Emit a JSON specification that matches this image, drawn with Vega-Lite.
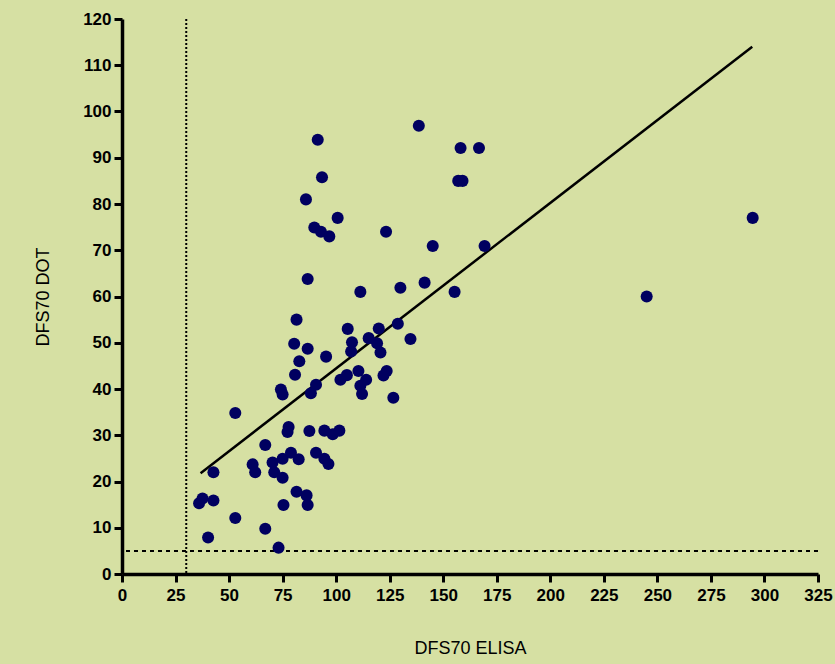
{
  "$schema": "https://vega.github.io/schema/vega-lite/v6.json",
  "width": 696,
  "height": 555,
  "autosize": {"type": "none"},
  "padding": {"left": 122, "top": 19, "right": 17, "bottom": 90},
  "background": "#D6E0A3",
  "config": {
    "view": {"stroke": null, "fill": "#D6E0A3"},
    "axis": {
      "grid": false,
      "domainColor": "#000000",
      "domainWidth": 3.5,
      "tickColor": "#000000",
      "tickWidth": 3,
      "tickSize": 8,
      "labelFont": "Liberation Sans",
      "labelFontWeight": "bold",
      "labelFontSize": 17,
      "labelColor": "#000000",
      "titleFont": "Liberation Sans",
      "titleFontWeight": "normal",
      "titleFontSize": 18,
      "titleColor": "#000000"
    }
  },
  "datasets": {
    "pts": [
      {"elisa": 36, "dot": 15.3}, {"elisa": 37.6, "dot": 16.3}, {"elisa": 42.7, "dot": 15.9}, {"elisa": 42.7, "dot": 22},
      {"elisa": 40.2, "dot": 7.9}, {"elisa": 52.9, "dot": 34.8}, {"elisa": 52.9, "dot": 12.1}, {"elisa": 66.9, "dot": 9.8},
      {"elisa": 73.1, "dot": 5.7}, {"elisa": 61, "dot": 23.7}, {"elisa": 62.2, "dot": 22}, {"elisa": 66.9, "dot": 27.9},
      {"elisa": 70.3, "dot": 24.1}, {"elisa": 71.1, "dot": 22}, {"elisa": 75, "dot": 20.8}, {"elisa": 75, "dot": 24.9},
      {"elisa": 78.9, "dot": 26.2}, {"elisa": 82.5, "dot": 24.8}, {"elisa": 90.6, "dot": 26.2}, {"elisa": 94.5, "dot": 24.9},
      {"elisa": 96.4, "dot": 23.8}, {"elisa": 81.5, "dot": 17.8}, {"elisa": 86.2, "dot": 17}, {"elisa": 86.7, "dot": 14.9},
      {"elisa": 75.4, "dot": 14.9}, {"elisa": 77.8, "dot": 31.8}, {"elisa": 77.3, "dot": 30.7}, {"elisa": 87.5, "dot": 30.9},
      {"elisa": 94.5, "dot": 31}, {"elisa": 98.4, "dot": 30.2}, {"elisa": 101.5, "dot": 31}, {"elisa": 74.2, "dot": 39.9},
      {"elisa": 75, "dot": 38.8}, {"elisa": 90.6, "dot": 40.9}, {"elisa": 88.2, "dot": 39.1}, {"elisa": 80.8, "dot": 43.1},
      {"elisa": 82.8, "dot": 46}, {"elisa": 95.3, "dot": 47}, {"elisa": 80.4, "dot": 49.8}, {"elisa": 86.7, "dot": 48.7},
      {"elisa": 81.5, "dot": 55}, {"elisa": 102, "dot": 42}, {"elisa": 105, "dot": 43}, {"elisa": 110.4, "dot": 43.9},
      {"elisa": 114, "dot": 42}, {"elisa": 111.3, "dot": 40.7}, {"elisa": 112.1, "dot": 38.9}, {"elisa": 123.6, "dot": 43.9},
      {"elisa": 122.1, "dot": 42.9}, {"elisa": 126.7, "dot": 38.1}, {"elisa": 105.4, "dot": 53}, {"elisa": 107.4, "dot": 50.1},
      {"elisa": 107, "dot": 48.1}, {"elisa": 115.2, "dot": 51}, {"elisa": 119.1, "dot": 49.9}, {"elisa": 120.7, "dot": 47.9},
      {"elisa": 119.9, "dot": 53.1}, {"elisa": 128.8, "dot": 54.1}, {"elisa": 134.7, "dot": 50.8},
      {"elisa": 91.4, "dot": 93.9}, {"elisa": 138.6, "dot": 96.9}, {"elisa": 158.1, "dot": 92.1}, {"elisa": 166.7, "dot": 92.1},
      {"elisa": 93.4, "dot": 85.8}, {"elisa": 157, "dot": 85}, {"elisa": 159, "dot": 85}, {"elisa": 85.9, "dot": 81},
      {"elisa": 100.7, "dot": 77}, {"elisa": 89.8, "dot": 74.9}, {"elisa": 92.9, "dot": 74}, {"elisa": 96.8, "dot": 73},
      {"elisa": 123.3, "dot": 74}, {"elisa": 145.1, "dot": 70.9}, {"elisa": 169.3, "dot": 70.9}, {"elisa": 86.7, "dot": 63.8},
      {"elisa": 111.3, "dot": 61}, {"elisa": 130, "dot": 61.9}, {"elisa": 141.3, "dot": 63}, {"elisa": 155.3, "dot": 61},
      {"elisa": 245, "dot": 60}, {"elisa": 294.5, "dot": 77}
    ],
    "fit": [{"elisa": 36.7, "dot": 21.8}, {"elisa": 294.3, "dot": 114.0}],
    "vcut": [{"elisa": 30}],
    "hcut": [{"dot": 5}]
  },
  "layer": [
    {
      "data": {"name": "vcut"},
      "mark": {"type": "rule", "color": "#000000", "strokeWidth": 2, "strokeDash": [2, 2]},
      "encoding": {
        "x": {"field": "elisa", "type": "quantitative", "scale": {"domain": [0, 325], "nice": false, "zero": false}}
      }
    },
    {
      "data": {"name": "hcut"},
      "mark": {"type": "rule", "color": "#000000", "strokeWidth": 2, "strokeDash": [4, 4]},
      "encoding": {
        "y": {"field": "dot", "type": "quantitative", "scale": {"domain": [0, 120], "nice": false, "zero": false}}
      }
    },
    {
      "data": {"name": "fit"},
      "mark": {"type": "line", "color": "#000000", "strokeWidth": 2.5},
      "encoding": {
        "x": {"field": "elisa", "type": "quantitative"},
        "y": {"field": "dot", "type": "quantitative"}
      }
    },
    {
      "data": {"name": "pts"},
      "mark": {"type": "circle", "color": "#000060", "opacity": 1, "size": 145},
      "encoding": {
        "x": {
          "field": "elisa", "type": "quantitative",
          "scale": {"domain": [0, 325], "nice": false, "zero": false},
          "axis": {"title": "DFS70 ELISA", "values": [0, 25, 50, 75, 100, 125, 150, 175, 200, 225, 250, 275, 300, 325], "labelPadding": 5, "titlePadding": 36, "labelFlush": false}
        },
        "y": {
          "field": "dot", "type": "quantitative",
          "scale": {"domain": [0, 120], "nice": false, "zero": false},
          "axis": {"title": "DFS70 DOT", "values": [0, 10, 20, 30, 40, 50, 60, 70, 80, 90, 100, 110, 120], "labelPadding": 3, "titlePadding": 30, "labelFlush": false}
        }
      }
    }
  ]
}
